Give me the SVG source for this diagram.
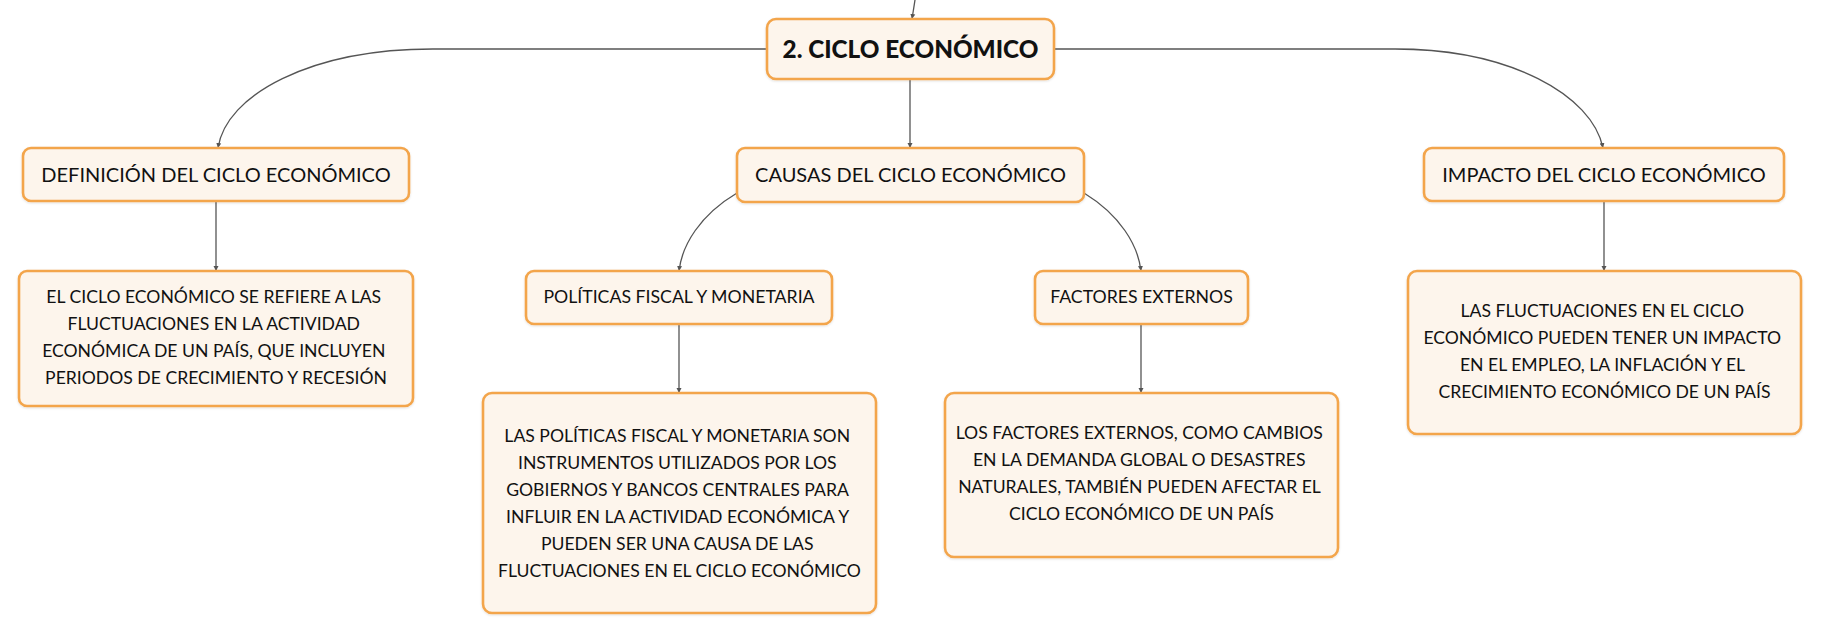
<svg xmlns="http://www.w3.org/2000/svg" width="1821" height="634" viewBox="0 0 1821 634">
<defs>
<marker id="arr" markerUnits="userSpaceOnUse" markerWidth="6" markerHeight="6" refX="5" refY="3" orient="auto">
<path d="M0,0.5 L5,3 L0,5.5 Z" fill="#555"/>
</marker>
<filter id="sh" x="-5%" y="-5%" width="110%" height="115%">
<feDropShadow dx="0" dy="1" stdDeviation="1.2" flood-color="#000" flood-opacity="0.12"/>
</filter>
</defs>
<style>
.box{fill:#fdf5ec;stroke:#f3a54c;stroke-width:2.6;filter:url(#sh)}
.t{font-family:Lato,"Open Sans","Liberation Sans",sans-serif;fill:#111;text-anchor:middle}
.h{font-size:20px}
.s{font-size:17.7px}
.b{font-size:17.6px}
.c{font-size:24.3px;font-weight:900}
.ln{fill:none;stroke:#555;stroke-width:1.3;marker-end:url(#arr)}
</style>
<rect width="1821" height="634" fill="#fff"/>
<g id="connectors">
<path class="ln" d="M915,0 L912,19"/>
<path class="ln" d="M767,49 L433,49 C310,49 226,95 218,148"/>
<path class="ln" d="M1054,49 L1395,49 C1510,49 1592,95 1603,148"/>
<path class="ln" d="M910,79 L910,148"/>
<path class="ln" d="M737,193 C700,215 682,245 679,271"/>
<path class="ln" d="M1084,193 C1120,215 1138,245 1141,271"/>
<path class="ln" d="M216,201 L216,271"/>
<path class="ln" d="M679,324 L679,393"/>
<path class="ln" d="M1141,324 L1141,393"/>
<path class="ln" d="M1604,201 L1604,271"/>
</g>
<g id="node-root">
<rect class="box" x="767" y="19" width="287" height="60" rx="9"/>
<text class="t c" x="910.5" y="58">2. CICLO ECONÓMICO</text>
</g>
<g id="node-definicion">
<rect class="box" x="23" y="148" width="386" height="53" rx="8"/>
<text class="t h" x="216" y="182">DEFINICIÓN DEL CICLO ECONÓMICO</text>
</g>
<g id="node-causas">
<rect class="box" x="737" y="148" width="347" height="54" rx="8"/>
<text class="t h" x="910.5" y="182">CAUSAS DEL CICLO ECONÓMICO</text>
</g>
<g id="node-impacto">
<rect class="box" x="1424" y="148" width="360" height="53" rx="8"/>
<text class="t h" x="1604" y="182">IMPACTO DEL CICLO ECONÓMICO</text>
</g>
<g id="node-definicion-texto">
<rect class="box" x="19" y="271" width="394" height="135" rx="8"/>
<text class="t b">
<tspan x="216" y="303">EL CICLO ECONÓMICO SE REFIERE A LAS</tspan>
<tspan x="216" y="330">FLUCTUACIONES EN LA ACTIVIDAD</tspan>
<tspan x="216" y="357">ECONÓMICA DE UN PAÍS, QUE INCLUYEN</tspan>
<tspan x="216" y="384">PERIODOS DE CRECIMIENTO Y RECESIÓN</tspan>
</text>
</g>
<g id="node-politicas">
<rect class="box" x="526" y="271" width="306" height="53" rx="8"/>
<text class="t s" x="679" y="303">POLÍTICAS FISCAL Y MONETARIA</text>
</g>
<g id="node-factores">
<rect class="box" x="1035" y="271" width="213" height="53" rx="8"/>
<text class="t s" x="1141.5" y="303">FACTORES EXTERNOS</text>
</g>
<g id="node-politicas-texto">
<rect class="box" x="483" y="393" width="393" height="220" rx="9"/>
<text class="t b">
<tspan x="679.5" y="442">LAS POLÍTICAS FISCAL Y MONETARIA SON</tspan>
<tspan x="679.5" y="469">INSTRUMENTOS UTILIZADOS POR LOS</tspan>
<tspan x="679.5" y="496">GOBIERNOS Y BANCOS CENTRALES PARA</tspan>
<tspan x="679.5" y="523">INFLUIR EN LA ACTIVIDAD ECONÓMICA Y</tspan>
<tspan x="679.5" y="550">PUEDEN SER UNA CAUSA DE LAS</tspan>
<tspan x="679.5" y="577">FLUCTUACIONES EN EL CICLO ECONÓMICO</tspan>
</text>
</g>
<g id="node-factores-texto">
<rect class="box" x="945" y="393" width="393" height="164" rx="9"/>
<text class="t b">
<tspan x="1141.5" y="439">LOS FACTORES EXTERNOS, COMO CAMBIOS</tspan>
<tspan x="1141.5" y="466">EN LA DEMANDA GLOBAL O DESASTRES</tspan>
<tspan x="1141.5" y="493">NATURALES, TAMBIÉN PUEDEN AFECTAR EL</tspan>
<tspan x="1141.5" y="520">CICLO ECONÓMICO DE UN PAÍS</tspan>
</text>
</g>
<g id="node-impacto-texto">
<rect class="box" x="1408" y="271" width="393" height="163" rx="9"/>
<text class="t b">
<tspan x="1604.5" y="317">LAS FLUCTUACIONES EN EL CICLO</tspan>
<tspan x="1604.5" y="344">ECONÓMICO PUEDEN TENER UN IMPACTO</tspan>
<tspan x="1604.5" y="371">EN EL EMPLEO, LA INFLACIÓN Y EL</tspan>
<tspan x="1604.5" y="398">CRECIMIENTO ECONÓMICO DE UN PAÍS</tspan>
</text>
</g>
</svg>
